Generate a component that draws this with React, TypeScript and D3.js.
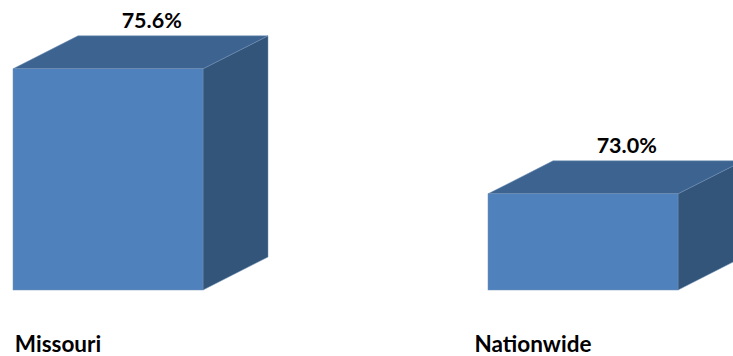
import React from "react";
import * as d3 from "d3";

const categories = ["Missouri", "Nationwide"];
const values = [75.6, 73.0];
const valueLabels = ["75.6%", "73.0%"];

const W = 733;
const H = 356;

export default function App() {
  const x = d3.scaleBand<string>().domain(categories).range([13, 678]).paddingInner(0.6).paddingOuter(0);
  const y = d3.scaleLinear().domain([71, 76]).range([290, 49.6]);
  const dx = 65;
  const dy = -33;
  const bw = x.bandwidth();
  const front = "#4f81bd";
  const top = "#3d6491";
  const side = "#325579";
  const edge = "#6f8fb5";
  return (
    <svg width={W} height={H} style={{ position: "absolute", left: 0, top: 0, background: "#fff" }}>
      {categories.map((c, i) => {
        const x0 = x(c)!;
        const x1 = x0 + bw;
        const yt = y(values[i]);
        const yb = y(71);
        const topPath = d3.path();
        topPath.moveTo(x0, yt);
        topPath.lineTo(x0 + dx, yt + dy);
        topPath.lineTo(x1 + dx, yt + dy);
        topPath.lineTo(x1, yt);
        topPath.closePath();
        const sidePath = d3.path();
        sidePath.moveTo(x1, yt);
        sidePath.lineTo(x1 + dx, yt + dy);
        sidePath.lineTo(x1 + dx, yb + dy);
        sidePath.lineTo(x1, yb);
        sidePath.closePath();
        return (
          <g key={c}>
            <path d={sidePath.toString()} fill={side} stroke={edge} strokeWidth={0.5} />
            <path d={topPath.toString()} fill={top} stroke={edge} strokeWidth={0.5} />
            <rect x={x0} y={yt} width={bw} height={yb - yt} fill={front} stroke={edge} strokeWidth={0.5} />
            <text
              x={x0 + bw * 0.73}
              y={yt + dy - 8}
              textAnchor="middle"
              fontFamily="Lato, 'Open Sans', sans-serif"
              fontWeight="bold"
              fontSize={21.5}
              fill="#000"
            >
              {valueLabels[i]}
            </text>
            <text
              x={x0 + 45}
              y={352}
              textAnchor="middle"
              fontFamily="Lato, 'Open Sans', sans-serif"
              fontWeight="bold"
              fontSize={22.5}
              fill="#000"
            >
              {c}
            </text>
          </g>
        );
      })}
    </svg>
  );
}
